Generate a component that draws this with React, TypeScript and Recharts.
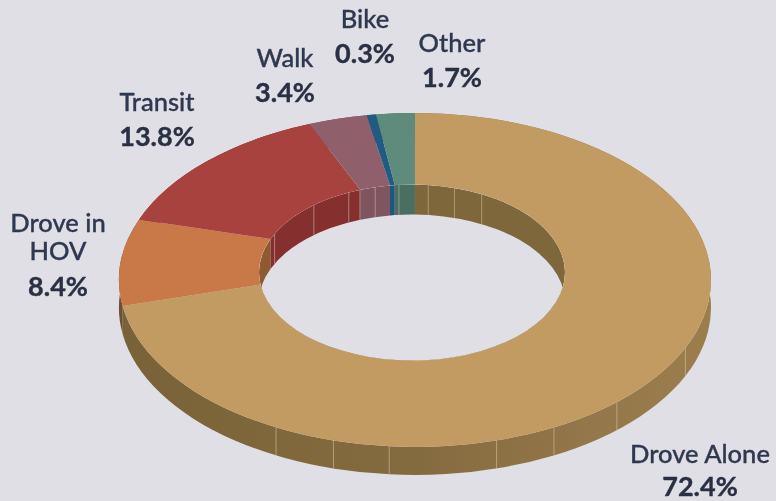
import { PieChart, Pie } from "recharts";

// wedge sizes as drawn: the source's top wedges are not quite proportional to its printed percentages
const categories = ["Drove Alone", "Drove in HOV", "Transit", "Walk", "Bike", "Other"];
const shares = [72.5, 8.4, 13.3, 3.2, 0.5, 2.1];
const nameLines = [["Drove Alone"], ["Drove in", "HOV"], ["Transit"], ["Walk"], ["Bike"], ["Other"]];
const percentLabels = ["72.4%", "8.4%", "13.8%", "3.4%", "0.3%", "1.7%"];

const topColors = ["#C19B61", "#C97848", "#A7423E", "#8F5F6C", "#1F5C82", "#5E8B7C"];
const outerWallColors = ["url(#aloneWall)", "#6F5030", "#85302E", "#7F5560", "#1F5680", "#4A6E62"];
const innerWallColors = ["#7F673C", "#8F5A30", "#85302E", "#7F5560", "#1F5680", "#4A6E62"];

const labelCenters = [700, 58, 157, 285, 365, 452];
const labelBaselines = [[463, 496], [232, 260, 296], [111, 146], [67, 102], [28, 63], [52, 87]];

// facet lines on the walls, in chart degrees
const outerSeams = [-24, -47, -62, -74, -95, -106, -118];
const innerSeams = [85, 75, 64, -205, -229, -244.5, -249, -255, -264, -270];

const CX = 415;
const CY = 280;
const SQUASH = 0.564;
const INNER_SQUASH = 0.575;
const INNER_DX = -3;
const INNER_DY = -7.5;
const INNER_TWIST = -1.1; // keeps the 12 o'clock edge vertical with the hole sitting off-centre
const OUTER_DEPTH = 28;
const INNER_DEPTH = 30;
const INNER_R = 153;
const OUTER_R = 296;

const tableData = categories.map((name, i) => ({ name, share: shares[i] }));

const RAD = Math.PI / 180;

function ellipsePoint(cx: number, cy: number, rx: number, ry: number, deg: number) {
  return `${cx + rx * Math.cos(deg * RAD)} ${cy - ry * Math.sin(deg * RAD)}`;
}

function ringArc(cx: number, cy: number, rx: number, ry: number, from: number, to: number) {
  const large = Math.abs(from - to) > 180 ? 1 : 0;
  const sweep = from > to ? 1 : 0;
  return `A ${rx} ${ry} 0 ${large} ${sweep} ${ellipsePoint(cx, cy, rx, ry, to)}`;
}

function TopFace(props: any) {
  const { cx, cy, innerRadius, outerRadius, startAngle, endAngle, index } = props;
  const ix = cx + INNER_DX;
  const iy = cy + INNER_DY;
  const ry = outerRadius * SQUASH;
  const iry = innerRadius * INNER_SQUASH;
  const d = [
    `M ${ellipsePoint(cx, cy, outerRadius, ry, startAngle)}`,
    ringArc(cx, cy, outerRadius, ry, startAngle, endAngle),
    `L ${ellipsePoint(ix, iy, innerRadius, iry, endAngle + INNER_TWIST)}`,
    ringArc(ix, iy, innerRadius, iry, endAngle + INNER_TWIST, startAngle + INNER_TWIST),
    "Z",
  ].join(" ");
  return <path d={d} fill={topColors[index]} />;
}

function OuterWall(props: any) {
  const { cx, cy, outerRadius, startAngle, endAngle, index } = props;
  const ry = outerRadius * SQUASH;
  const rim = `M ${ellipsePoint(cx, cy, outerRadius, ry, startAngle)} ${ringArc(cx, cy, outerRadius, ry, startAngle, endAngle)}`;
  const d = [
    rim,
    `L ${ellipsePoint(cx, cy + OUTER_DEPTH, outerRadius, ry, endAngle)}`,
    ringArc(cx, cy + OUTER_DEPTH, outerRadius, ry, endAngle, startAngle),
    "Z",
  ].join(" ");
  const seams = outerSeams.filter((s) => s <= startAngle && s > endAngle);
  return (
    <g>
      <path d={d} fill={outerWallColors[index]} />
      {seams.map((s) => (
        <path
          key={s}
          d={`M ${ellipsePoint(cx, cy, outerRadius, ry, s)} L ${ellipsePoint(cx, cy + OUTER_DEPTH, outerRadius, ry, s)}`}
          stroke="#cfc4a8"
          strokeOpacity={0.6}
          strokeWidth={1}
        />
      ))}
    </g>
  );
}

function InnerWall(props: any) {
  const { cx, cy, innerRadius, startAngle, endAngle, index } = props;
  const ix = cx + INNER_DX;
  const iy = cy + INNER_DY;
  const ry = innerRadius * INNER_SQUASH;
  const from = startAngle + INNER_TWIST;
  const to = endAngle + INNER_TWIST;
  const d = [
    `M ${ellipsePoint(ix, iy, innerRadius, ry, from)}`,
    ringArc(ix, iy, innerRadius, ry, from, to),
    `L ${ellipsePoint(ix, iy + INNER_DEPTH, innerRadius, ry, to)}`,
    ringArc(ix, iy + INNER_DEPTH, innerRadius, ry, to, from),
    "Z",
  ].join(" ");
  const seams = innerSeams.filter((s) => s <= startAngle && s > endAngle);
  return (
    <g clipPath="url(#holeClip)">
      <path d={d} fill={innerWallColors[index]} />
      {seams.map((s) => (
        <path
          key={s}
          d={`M ${ellipsePoint(ix, iy, innerRadius, ry, s + INNER_TWIST)} L ${ellipsePoint(ix, iy + INNER_DEPTH, innerRadius, ry, s + INNER_TWIST)}`}
          stroke="#cfc4a8"
          strokeOpacity={0.55}
          strokeWidth={1}
        />
      ))}
    </g>
  );
}

function SliceLabel(props: any) {
  const { index } = props;
  const x = labelCenters[index];
  const ys = labelBaselines[index];
  const lines = nameLines[index];
  return (
    <g fontFamily="Lato" textAnchor="middle">
      {lines.map((line, i) => (
        <text key={line} x={x} y={ys[i]} fontSize={25.5} fontWeight={500} fill="#2E3850" stroke="#2E3850" strokeWidth={0.35}>
          {line}
        </text>
      ))}
      <text x={x} y={ys[lines.length]} fontSize={27} fontWeight={700} fill="#2A3044" stroke="#2A3044" strokeWidth={0.4}>
        {percentLabels[index]}
      </text>
    </g>
  );
}

const pieProps = {
  data: tableData,
  dataKey: "share",
  nameKey: "name",
  cx: CX,
  cy: CY,
  innerRadius: INNER_R,
  outerRadius: OUTER_R,
  startAngle: 90,
  endAngle: -270,
  paddingAngle: 0,
  stroke: "none",
  isAnimationActive: false,
};

export default function App() {
  return (
    <div style={{ position: "absolute", left: 0, top: 0, width: 776, height: 501, overflow: "hidden", background: "#E0DFE5" }}>
      <div style={{ filter: "blur(0.6px)" }}>
        <PieChart width={776} height={501} margin={{ top: 0, right: 0, bottom: 0, left: 0 }}>
          <defs>
            <linearGradient id="aloneWall" gradientUnits="userSpaceOnUse" x1={119} y1={0} x2={711} y2={0}>
              <stop offset="0%" stopColor="#7A6238" />
              <stop offset="50%" stopColor="#846B3F" />
              <stop offset="80%" stopColor="#94774A" />
              <stop offset="100%" stopColor="#9C7E4D" />
            </linearGradient>
            <clipPath id="holeClip">
              <ellipse cx={CX + INNER_DX} cy={CY + INNER_DY} rx={INNER_R} ry={INNER_R * INNER_SQUASH} />
            </clipPath>
          </defs>
          <Pie {...pieProps} shape={OuterWall} />
          <Pie {...pieProps} shape={InnerWall} />
          <Pie {...pieProps} shape={TopFace} label={SliceLabel} labelLine={false} />
        </PieChart>
      </div>
    </div>
  );
}
